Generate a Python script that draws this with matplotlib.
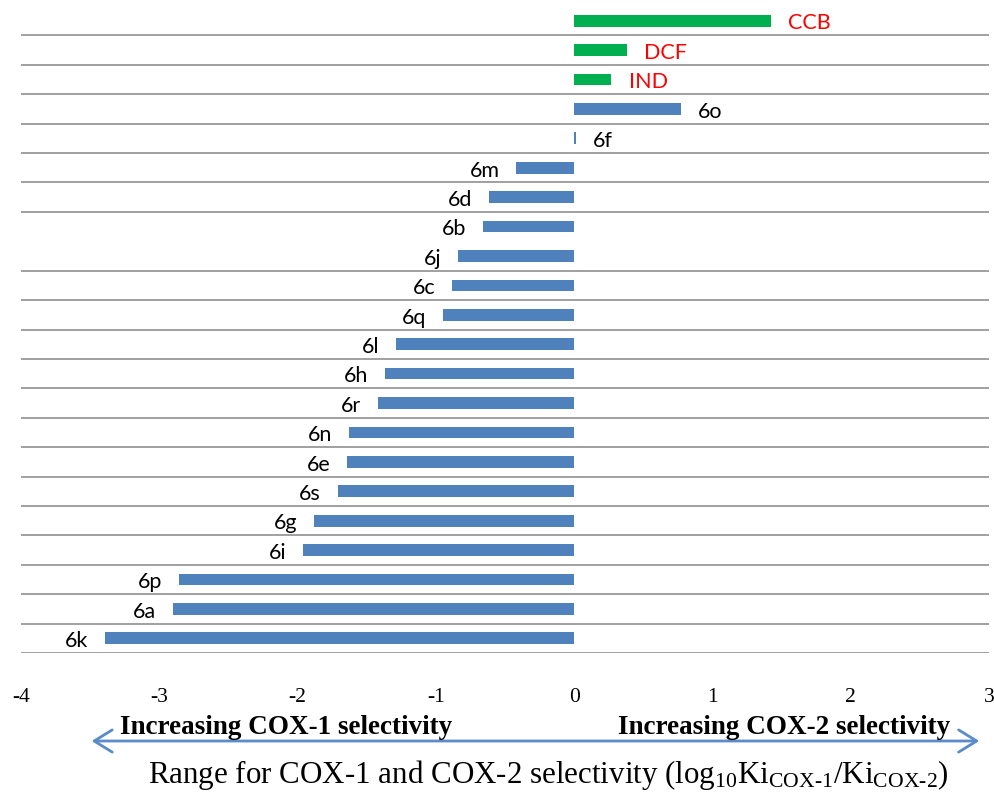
import matplotlib
matplotlib.use("Agg")
import matplotlib.pyplot as plt
from matplotlib.transforms import blended_transform_factory

# ---- data (top to bottom) ----
compounds = ["CCB", "DCF", "IND", "6o", "6f", "6m", "6d", "6b", "6j", "6c", "6q",
             "6l", "6h", "6r", "6n", "6e", "6s", "6g", "6i", "6p", "6a", "6k"]
selectivity = [1.42, 0.38, 0.27, 0.77, 0.01, -0.42, -0.615, -0.66, -0.84, -0.88, -0.95,
               -1.29, -1.37, -1.42, -1.63, -1.64, -1.71, -1.88, -1.96, -2.86, -2.90, -3.39]
references = ["CCB", "DCF", "IND"]
x_ticks = [-4, -3, -2, -1, 0, 1, 2, 3]
no_grid_between = ("6b", "6j")

BLUE = "#4F81BD"
GREEN = "#00B050"
GRID = "#868686"

plt.rcParams["mathtext.fontset"] = "custom"
plt.rcParams["mathtext.rm"] = "Liberation Serif"
plt.rcParams["mathtext.it"] = "Liberation Serif:italic"

fig = plt.figure(figsize=(9.94, 7.93), dpi=100)
ax = fig.add_axes([21 / 994, 1 - 653 / 793, (989 - 21) / 994, (653 - 6) / 793])

n = len(compounds)
ypos = list(range(n))
colors = [GREEN if c in references else BLUE for c in compounds]
ax.barh(ypos, selectivity, height=0.4, color=colors, zorder=3)

# labels
for i, (c, v) in enumerate(zip(compounds, selectivity)):
    tcol = "#FF0000" if c in references else "black"
    if v >= 0:
        ax.annotate(c, xy=(v, i), xytext=(12.5, -2), textcoords="offset points",
                    ha="left", va="center", fontsize=15.5, color=tcol, family="Lato")
    else:
        ax.annotate(c, xy=(v, i), xytext=(-12, -2), textcoords="offset points",
                    ha="right", va="center", fontsize=15.5, color=tcol, family="Lato")

# row boundary gridlines
skip = compounds.index(no_grid_between[0])
for i in range(n):
    if i == skip:
        continue
    ax.axhline(i + 0.5, color=GRID, lw=1.1, zorder=1)

ax.set_ylim(n - 0.5, -0.5)
ax.set_xlim(x_ticks[0], x_ticks[-1])
ax.set_xticks(x_ticks)
ax.set_xticklabels([str(t) for t in x_ticks], family="Liberation Serif", fontsize=15.5)
ax.tick_params(axis="x", length=0, pad=25)
ax.set_yticks([])
for s in ax.spines.values():
    s.set_visible(False)

# arrow and annotations
tr = blended_transform_factory(ax.transData, fig.transFigure)
ax.annotate("", xy=(-3.49, 1 - 741 / 793), xytext=(2.93, 1 - 741 / 793),
            xycoords=tr, textcoords=tr,
            arrowprops=dict(arrowstyle="<->,head_length=1.3,head_width=0.8",
                            color="#5B8BC8", lw=2.0, shrinkA=0, shrinkB=0),
            annotation_clip=False)

fig.text(120 / 994, 1 - 734 / 793, "Increasing COX-1 selectivity", family="Liberation Serif",
         weight="bold", fontsize=19.5, ha="left", va="baseline")
fig.text(618 / 994, 1 - 734 / 793, "Increasing COX-2 selectivity", family="Liberation Serif",
         weight="bold", fontsize=19.5, ha="left", va="baseline")
fig.text(148 / 994, 1 - 783 / 793,
         r"Range for COX-1 and COX-2 selectivity (log$_{10}$Ki$_{\text{COX-1}}$/Ki$_{\text{COX-2}}$)",
         family="Liberation Serif", fontsize=22.3, ha="left", va="baseline")

fig.savefig("out.png", dpi=100)
